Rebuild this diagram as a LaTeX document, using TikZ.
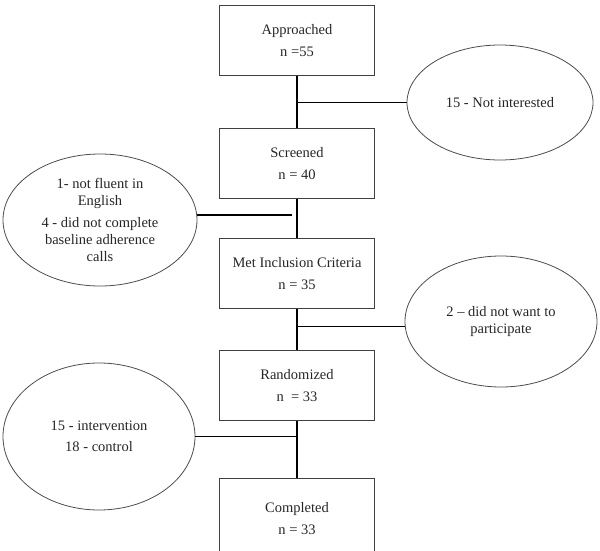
\documentclass[tikz,border=0pt]{standalone}
\usepackage{fontspec}
\setmainfont{Liberation Serif}
\usetikzlibrary{positioning}
\usetikzlibrary{shapes.geometric}
\tikzset {
  % path style for the flow lines
  link/.style = {
    draw = black,
    line width = 1.6pt
  }
}
\tikzset {
  flow node/.style = {
    text = black!85,
    align = center,
    font = \fontsize{14.5}{17}\selectfont
  },
  % stage of the study
  stage/.style = {
    flow node,
    draw = black!75,
    line width = 1pt,
    rectangle,
    minimum width = 155pt,
    minimum height = 70pt
  },
  % side note with the counts
  reason/.style = {
    flow node,
    draw = black!70,
    line width = 0.8pt,
    ellipse,
    inner sep = 0
  },
  node distance = 40pt
}

\begin{document}
\begin{tikzpicture}[x=1pt, y=1pt]
    \useasboundingbox (0,0) rectangle (600,-551);

    \node[stage] (approached) at (297,-40.5) {Approached\\[5pt]n =55};
    \node[stage] (screened) [below=52pt of approached] {Screened\\[5pt]n = 40};
    \node[stage] (inclusion) [below=39pt of screened] {Met Inclusion Criteria\\[5pt]n = 35};
    \node[stage] (randomized) [below=41pt of inclusion] {Randomized\\[5pt]n \ = 33};
    \node[stage, minimum height = 80pt] (completed) [below=57pt of randomized] {Completed\\[5pt]n = 33};

    \node[reason, minimum width = 186pt, minimum height = 115pt] (notint) at (500,-102.5) {15 - Not interested};
    \node[reason, minimum width = 194pt, minimum height = 132pt] (excluded) at (100,-220)
      {1- not fluent in\\English\\[5pt]4 - did not complete\\baseline adherence\\calls};
    \node[reason, minimum width = 192pt, minimum height = 131pt] (declined) at (501,-321.5)
      {2 -- did not want to\\participate};
    \node[reason, minimum width = 192pt, minimum height = 147pt] (arms) at (99,-436.5)
      {15 - intervention\\[4pt]18 - control};

    \draw[link] (approached) -- (screened);
    \draw[link] (screened) -- (inclusion);
    \draw[link] (inclusion) -- (randomized);
    \draw[link] (randomized) -- (completed);

    \draw[link] (notint.west) -- (notint.west -| approached.south);
    \draw[link, shorten >= 5pt] (excluded.3) -- (excluded.3 -| screened.south);
    \draw[link] (declined.183) -- (declined.183 -| inclusion.south);
    \draw[link] (arms.east) -- (arms.east -| randomized.south);
  \end{tikzpicture}
\end{document}
